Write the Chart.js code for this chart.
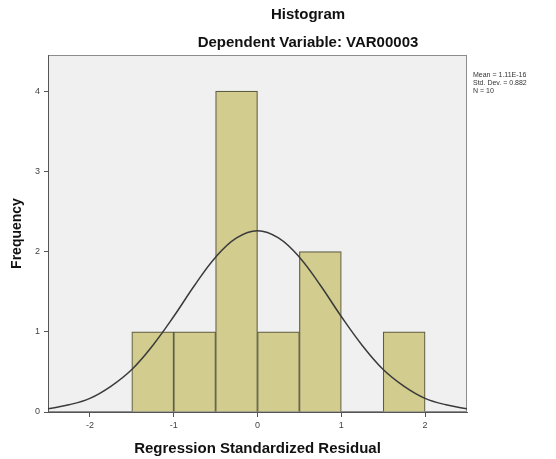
<!DOCTYPE html>
<html>
<head>
<meta charset="UTF-8">
<title>Histogram</title>
<script src="https://cdn.jsdelivr.net/npm/chart.js@4.4.4/dist/chart.umd.min.js"></script>
<style>
body { margin: 0; background: #fff; }
#wrap { width: 556px; height: 459px; position: relative; }
</style>
</head>
<body>
<div id="wrap"><canvas id="myChart"></canvas></div>
<script>
// bins of width 0.5 (centres) and their counts
const binCenters = [-1.25, -0.75, -0.25, 0.25, 0.75, 1.25, 1.75];
const frequency = [1, 1, 4, 1, 2, 0, 1];

// normal curve
const curveX = [-2.5, -2.25, -2, -1.75, -1.5, -1.25, -1, -0.75, -0.5, -0.25, 0,
                0.25, 0.5, 0.75, 1, 1.25, 1.5, 1.75, 2, 2.25, 2.5];
const curveY = [0.04, 0.09, 0.17, 0.32, 0.53, 0.83, 1.19, 1.58, 1.93, 2.17, 2.26,
                2.17, 1.93, 1.58, 1.19, 0.83, 0.53, 0.32, 0.17, 0.09, 0.04];

const xTicks = [-2, -1, 0, 1, 2];
const yTicks = [0, 1, 2, 3, 4];

const statsLines = ['Mean = 1.11E-16', 'Std. Dev. = 0.882', 'N = 10'];

const axisColor = '#555';

const plotBg = {
  id: 'plotBg',
  beforeDraw(chart) {
    const {ctx, chartArea: a} = chart;
    ctx.save();
    ctx.fillStyle = '#f0f0f0';
    ctx.fillRect(a.left, a.top, a.right - a.left, a.bottom - a.top);
    ctx.strokeStyle = '#8c8c8c';
    ctx.lineWidth = 1;
    ctx.strokeRect(a.left + 0.5, a.top + 0.5, a.right - a.left - 1, a.bottom - a.top - 1);
    ctx.restore();
  },
  afterDraw(chart) {
    const ctx = chart.ctx;
    ctx.save();
    ctx.fillStyle = '#111';
    ctx.textAlign = 'center';
    ctx.textBaseline = 'middle';
    ctx.font = 'bold 15px "Liberation Sans", Arial, sans-serif';
    ctx.fillText('Histogram', 308, 15);
    ctx.fillText('Dependent Variable: VAR00003', 308, 43);
    ctx.textAlign = 'left';
    ctx.fillStyle = '#333';
    ctx.font = '7px "Liberation Sans", Arial, sans-serif';
    statsLines.forEach((s, i) => ctx.fillText(s, 473, 75 + i * 8));
    ctx.restore();
  }
};

const ctx = document.getElementById('myChart').getContext('2d');
const myChart = new Chart(ctx, {
  type: 'bar',
  data: {
    datasets: [{
      type: 'line',
      data: curveX.map((x, i) => ({x: x, y: curveY[i]})),
      borderColor: '#3a3a3a',
      borderWidth: 1.5,
      pointRadius: 0,
      tension: 0.4,
      fill: false,
      order: 0
    }, {
      data: binCenters.map((c, i) => ({x: c, y: frequency[i]})),
      backgroundColor: '#d3cc8f',
      borderColor: '#5f5c42',
      borderWidth: 1.2,
      barPercentage: 1,
      categoryPercentage: 1,
      order: 1
    }]
  },
  options: {
    responsive: true,
    maintainAspectRatio: false,
    animation: false,
    layout: { padding: { top: 55, right: 89, left: 0, bottom: 0 } },
    plugins: { legend: { display: false }, tooltip: { enabled: false } },
    scales: {
      x: {
        type: 'linear',
        min: -2.5,
        max: 2.5,
        offset: false,
        afterBuildTicks: s => { s.ticks = xTicks.map(v => ({value: v})); },
        afterFit: s => { s.height = 47; },
        grid: { offset: false, drawOnChartArea: false, drawTicks: true, tickLength: 5, color: axisColor },
        border: { color: axisColor },
        ticks: { padding: 3, color: '#444', font: { size: 9, family: '"Liberation Sans", Arial' }, maxRotation: 0 },
        title: {
          display: true,
          text: 'Regression Standardized Residual',
          color: '#111',
          font: { size: 15, weight: 'bold', family: '"Liberation Sans", Arial' },
          padding: { top: 0, bottom: 1 }
        }
      },
      y: {
        min: 0,
        max: 4.45,
        afterBuildTicks: s => { s.ticks = yTicks.map(v => ({value: v})); },
        afterFit: s => { s.width = 48; },
        grid: { drawOnChartArea: false, drawTicks: true, tickLength: 4, color: axisColor },
        border: { color: axisColor },
        ticks: { padding: 4, color: '#444', font: { size: 9, family: '"Liberation Sans", Arial' } },
        title: {
          display: true,
          text: 'Frequency',
          color: '#111',
          font: { size: 14, weight: 'bold', family: '"Liberation Sans", Arial' },
          padding: { top: 9, bottom: 0 }
        }
      }
    }
  },
  plugins: [plotBg]
});
</script>
</body>
</html>
